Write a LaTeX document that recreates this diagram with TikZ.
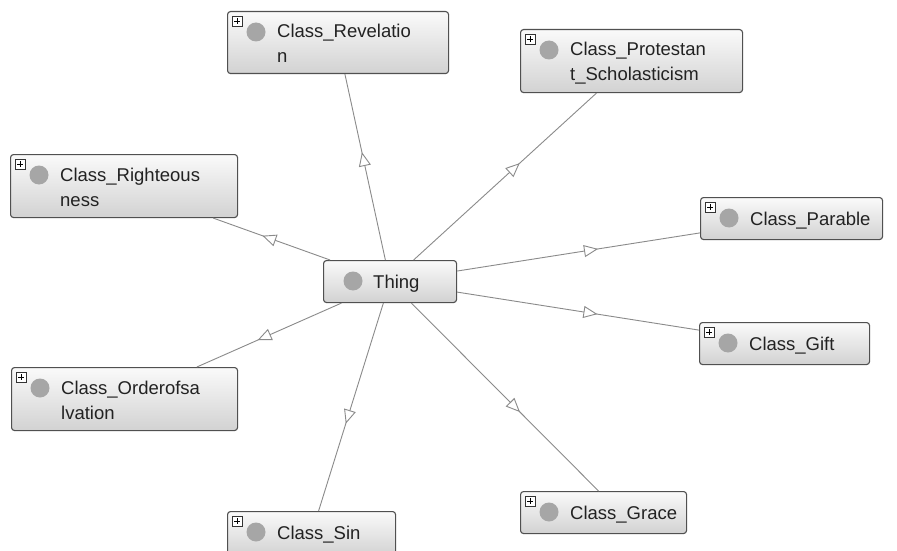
\documentclass[tikz,border=0pt]{standalone}
\usepackage{fontspec}
\setmainfont{Liberation Sans}
\usetikzlibrary{arrows.meta,decorations.markings}
\definecolor{boxborder}{HTML}{505050}
\definecolor{edgegray}{HTML}{8A8A8A}
\definecolor{dotgray}{HTML}{A6A6A6}
\definecolor{shadetop}{HTML}{FAFAFA}
\definecolor{shadebot}{HTML}{D2D2D2}
\definecolor{textcol}{HTML}{222222}
\newcommand\ontobox[5]{%
  \node[cls, minimum width=#4pt, minimum height=#5pt] (#1) at (#2,#3) {};
  \draw[plusbox] ([shift={(5,5)}]#1.north west) rectangle ([shift={(15,15)}]#1.north west);
  \draw[black, line width=0.7pt] ([shift={(7,10)}]#1.north west) -- ([shift={(13,10)}]#1.north west)
        ([shift={(10,7)}]#1.north west) -- ([shift={(10,13)}]#1.north west);
  \node[dot] (#1-dot) at ([shift={(29,21)}]#1.north west) {};
}
\begin{document}
\begin{tikzpicture}[x=1pt,y=-1pt,
  cls/.style={draw=boxborder, line width=1.1pt, rounded corners=3pt, top color=shadetop, bottom color=shadebot, inner sep=0pt, anchor=north west},
  plusbox/.style={draw=black!80, fill=white, line width=0.5pt},
  lbl/.style={anchor=base west, inner sep=0pt, font=\fontsize{18.5}{25}\selectfont, text=textcol},
  dot/.style={circle, fill=dotgray, minimum size=19pt, inner sep=0pt},
  isa/.style={draw=edgegray, line width=0.9pt, postaction={decorate},
    decoration={markings, mark=at position 0.58 with {\arrow{Triangle[open, length=14pt, width=12pt, fill=white, line width=0.9pt]}}}}
]
\useasboundingbox[fill=white] (0,0) rectangle (897,551);

% Thing
\node[cls, minimum width=133pt, minimum height=42pt] (thing) at (323,260) {};
\node[dot] (thing-dot) at ([shift={(30,21)}]thing.north west) {};
\node[lbl] (thing-a) at ([shift={(50,28)}]thing.north west) {Thing};

% classes
\ontobox{rev}{227}{11}{221}{62}
\node[lbl] (rev-a) at ([shift={(50,27)}]rev.north west) {Class\_Revelatio};
\node[lbl] (rev-b) at ([shift={(50,52)}]rev.north west) {n};

\ontobox{prot}{520}{29}{222}{63}
\node[lbl] (prot-a) at ([shift={(50,27)}]prot.north west) {Class\_Protestan};
\node[lbl] (prot-b) at ([shift={(50,52)}]prot.north west) {t\_Scholasticism};

\ontobox{right}{10}{154}{227}{63}
\node[lbl] (right-a) at ([shift={(50,27)}]right.north west) {Class\_Righteous};
\node[lbl] (right-b) at ([shift={(50,52)}]right.north west) {ness};

\ontobox{para}{700}{197}{182}{42}
\node[lbl] (para-a) at ([shift={(50,28)}]para.north west) {Class\_Parable};

\ontobox{gift}{699}{322}{170}{42}
\node[lbl] (gift-a) at ([shift={(50,28)}]gift.north west) {Class\_Gift};

\ontobox{order}{11}{367}{226}{63}
\node[lbl] (order-a) at ([shift={(50,27)}]order.north west) {Class\_Orderofsa};
\node[lbl] (order-b) at ([shift={(50,52)}]order.north west) {lvation};

\ontobox{sin}{227}{511}{168}{44}
\node[lbl] (sin-a) at ([shift={(50,28)}]sin.north west) {Class\_Sin};

\ontobox{grace}{520}{491}{166}{42}
\node[lbl] (grace-a) at ([shift={(50,28)}]grace.north west) {Class\_Grace};

% edges
\foreach \t in {rev,prot,right,para,gift,order,sin}
  \draw[isa] (thing) -- (\t);
\draw[isa] (thing) -- ([xshift=-5pt]grace.north);
\end{tikzpicture}
\end{document}
